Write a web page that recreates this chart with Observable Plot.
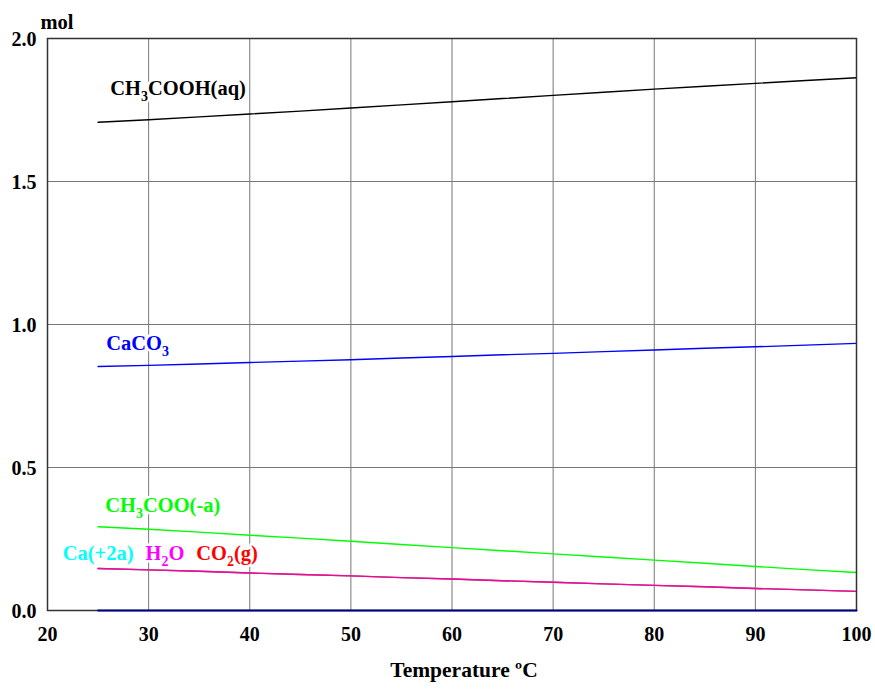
<!DOCTYPE html>
<html>
<head>
<meta charset="utf-8">
<script src="https://cdn.jsdelivr.net/npm/d3@7"></script>
<script src="https://cdn.jsdelivr.net/npm/@observablehq/plot@0.6"></script>
<style>
  body { margin: 0; background: #fff; }
  svg { font-family: "Liberation Serif", "Times New Roman", serif; }
  svg text { font-weight: bold; }
</style>
</head>
<body>
<div id="chart"></div>
<script>
const temps = [25, 30, 35, 40, 45, 50, 55, 60, 65, 70, 75, 80, 85, 90, 95, 100];
const ch3cooh = [1.707, 1.716, 1.726, 1.736, 1.746, 1.757, 1.768, 1.779, 1.790, 1.801, 1.812, 1.823, 1.833, 1.843, 1.853, 1.863];
const caco3 = [0.853, 0.857, 0.862, 0.867, 0.872, 0.877, 0.883, 0.888, 0.894, 0.899, 0.905, 0.911, 0.917, 0.922, 0.928, 0.934];
const ch3coo = [0.293, 0.284, 0.274, 0.263, 0.253, 0.242, 0.231, 0.220, 0.209, 0.198, 0.187, 0.176, 0.165, 0.154, 0.143, 0.133];
const ca2 = [0.147, 0.142, 0.137, 0.131, 0.126, 0.121, 0.115, 0.110, 0.104, 0.099, 0.093, 0.088, 0.083, 0.077, 0.072, 0.067];
const h2o = [0.147, 0.142, 0.137, 0.131, 0.126, 0.121, 0.115, 0.110, 0.104, 0.099, 0.093, 0.088, 0.083, 0.077, 0.072, 0.067];
const co2 = [0.147, 0.142, 0.137, 0.131, 0.126, 0.121, 0.115, 0.110, 0.104, 0.099, 0.093, 0.088, 0.083, 0.077, 0.072, 0.067];
const zeroSpecies = [0, 0, 0, 0, 0, 0, 0, 0, 0, 0, 0, 0, 0, 0, 0, 0];

const xTicks = [20, 30, 40, 50, 60, 70, 80, 90, 100];
const yTicks = [0, 0.5, 1.0, 1.5, 2.0];
const xTickLabels = ["20", "30", "40", "50", "60", "70", "80", "90", "100"];
const yTickLabels = ["0.0", "0.5", "1.0", "1.5", "2.0"];

const seriesNames = ["Ca(+2a)", "CO2(g)", "H2O", "CH3COO(-a)", "CaCO3", "CH3COOH(aq)"];
const seriesValues = [ca2, co2, h2o, ch3coo, caco3, ch3cooh];
const seriesColors = ["#00ffff", "#ff0000", "#ff00ff", "#00ff00", "#0000ff", "#000000"];
const seriesOpacity = [1, 1, 0.6, 1, 1, 1];

const labelTexts = ["CH_3COOH(aq)", "CaCO_3", "CH_3COO(-a)", "Ca(+2a)", "H_2O", "CO_2(g)"];
const labelX = [26.2, 25.8, 25.7, 21.5, 29.7, 34.7];
const labelY = [1.825, 0.934, 0.367, 0.199, 0.199, 0.199];
const labelColors = ["#000000", "#0000ff", "#00ff00", "#00ffff", "#ff00ff", "#ff0000"];

const rows = [];
seriesNames.forEach((name, si) => {
  temps.forEach((t, i) => rows.push({series: name, t, v: seriesValues[si][i], color: seriesColors[si], op: seriesOpacity[si]}));
});
const zeroRows = temps.map((t, i) => ({t, v: zeroSpecies[i]}));
const labels = labelTexts.map((s, i) => ({s, x: labelX[i], y: labelY[i], c: labelColors[i]}));
const xTickRows = xTicks.map((v, i) => ({v, s: xTickLabels[i]}));
const yTickRows = yTicks.map((v, i) => ({v, s: yTickLabels[i]}));

const chart = Plot.plot({
  width: 875,
  height: 691,
  marginLeft: 47,
  marginRight: 19,
  marginTop: 38,
  marginBottom: 81,
  style: {fontFamily: '"Liberation Serif", "Times New Roman", serif', background: "#fff", fontSize: "20px"},
  x: {domain: [20, 100], label: null, axis: null},
  y: {domain: [0, 2], label: null, axis: null},
  marks: [
    Plot.gridX(xTicks, {stroke: "#777", strokeOpacity: 1, strokeWidth: 1}),
    Plot.gridY(yTicks, {stroke: "#777", strokeOpacity: 1, strokeWidth: 1}),
    Plot.text(xTickRows, {x: "v", text: "s", frameAnchor: "bottom", lineAnchor: "middle", dy: 24, fontSize: 20}),
    Plot.text(yTickRows, {y: "v", text: "s", frameAnchor: "left", textAnchor: "end", lineAnchor: "middle", dx: -11, dy: 1, fontSize: 20}),
    Plot.text(labels, {x: "x", y: "y", text: "s", fill: "c", textAnchor: "start", fontSize: 20.5, stroke: "white", strokeWidth: 5, paintOrder: "stroke", className: "species-label"}),
    Plot.line(rows, {x: "t", y: "v", z: "series", stroke: "color", strokeOpacity: "op", strokeWidth: 1.4}),
    Plot.frame({stroke: "#333", strokeWidth: 1.5}),
    Plot.line(zeroRows, {x: "t", y: "v", stroke: "#000080", strokeWidth: 2}),
    Plot.text(["mol"], {frameAnchor: "top-left", dx: -7, dy: -24, fontSize: 20.5, textAnchor: "start"}),
    Plot.text(["Temperature ºC"], {frameAnchor: "bottom", dx: 12, dy: 66, fontSize: 21.5})
  ]
});
document.getElementById("chart").appendChild(chart);

// subscripts: lowered smaller digits
d3.select(chart).selectAll(".species-label text").each(function() {
  const el = d3.select(this);
  const txt = el.text();
  if (!txt.includes("_")) return;
  el.text(null);
  const parts = txt.split(/_(\d)/);
  let shifted = false;
  parts.forEach((p, i) => {
    if (i % 2 === 1) {
      el.append("tspan").attr("dy", 6).attr("font-size", 14).text(p);
      shifted = true;
    } else if (p !== "") {
      const ts = el.append("tspan").text(p);
      if (shifted) { ts.attr("dy", -6); shifted = false; }
    }
  });
});
</script>
</body>
</html>
